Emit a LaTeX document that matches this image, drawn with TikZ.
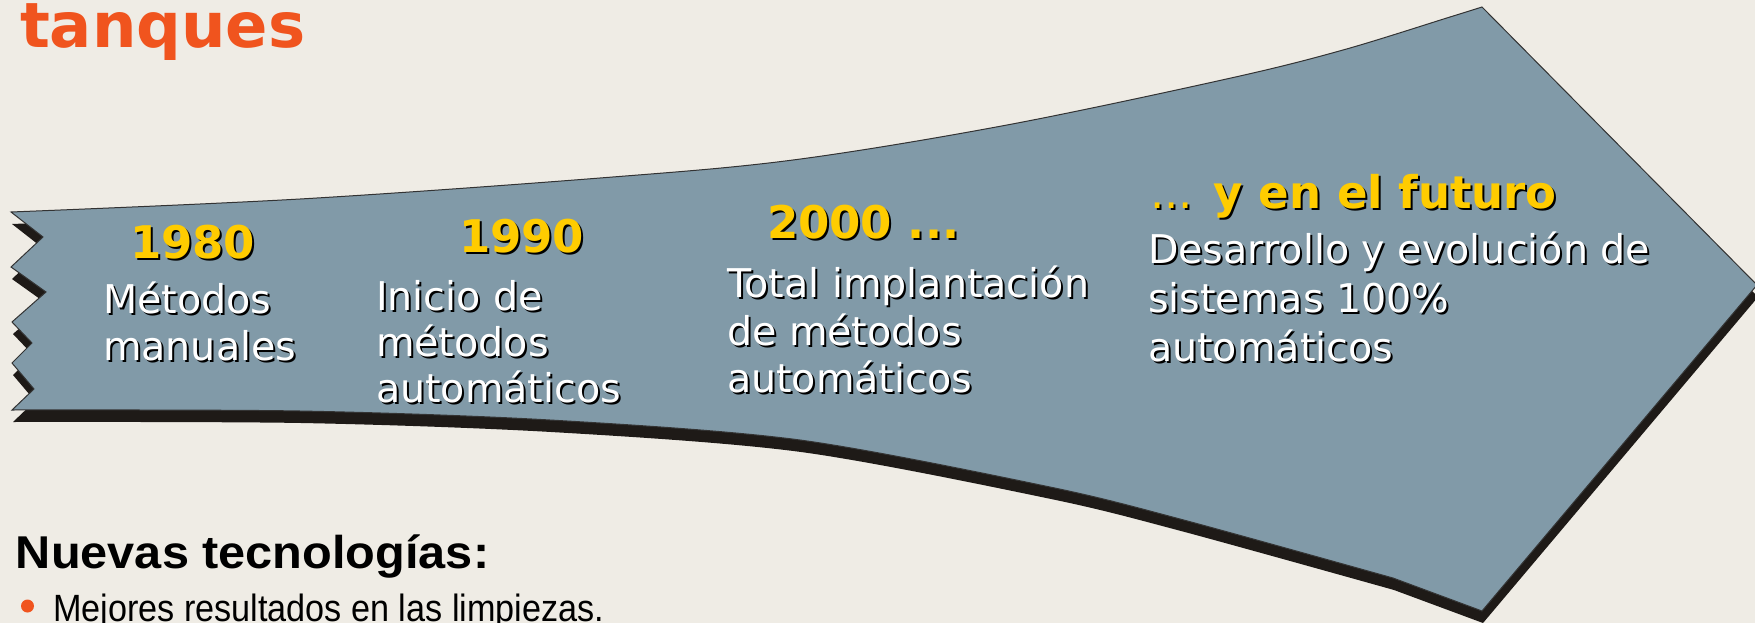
\documentclass[tikz,border=0pt]{standalone}
\usepackage{fontspec}
\usepackage{graphicx}
\setmainfont{DejaVu Sans}
\newfontfamily\lsans{Liberation Sans}
\definecolor{bgc}{RGB}{239,236,229}
\definecolor{shapec}{RGB}{129,154,168}
\definecolor{shadc}{RGB}{30,26,23}
\definecolor{yel}{RGB}{255,204,0}
\definecolor{orng}{RGB}{240,84,30}
\newcommand\flechashape{plot[smooth,tension=0.55] coordinates {(11,212) (300,199) (600,178) (793,160) (1007,125) (1231,78) (1343,50) (1450,17) (1482,7)} -- (1757,285) -- (1482,611) -- plot[smooth,tension=0.5] coordinates {(1393,578) (1180,519) (1050,487) (800,440) (550,420) (300,411) (12,410)} -- (34,389) -- (12,363) -- (32,343) -- (12,322) -- (46,292) -- (11,267) -- (43,237) -- cycle}
\newcommand\stx[4]{%
  \node[txt,#3,text=black,xshift=2pt,yshift=-2pt] at #2 {#4};
  \node[txt,#3] (#1) at #2 {#4};}
\begin{document}
\begin{tikzpicture}[x=1pt,y=-1pt,
  txt/.style={anchor=base west,inner sep=0pt,outer sep=0pt},
  yeartxt/.style={text=yel,font=\fontsize{45}{54}\selectfont\bfseries},
  bodytxt/.style={text=white,font=\fontsize{39.6}{47}\selectfont}]
\useasboundingbox (0,0) rectangle (1755,623);
\fill[bgc] (0,0) rectangle (1755,623);
% title
\node[txt,text=orng,font=\fontsize{62.5}{72}\selectfont\bfseries] (title) at (20,48) {tanques};
% shape with shadow
\begin{scope}[shift={(1,12)}]
  \fill[shadc] \flechashape;
\end{scope}
\fill[shapec,draw=black!80,line width=1pt,line join=miter] \flechashape;
% column 1
\stx{y1}{(130,258)}{yeartxt}{1980}
\stx{a1}{(103,313)}{bodytxt}{Métodos}
\stx{a2}{(103,360)}{bodytxt}{manuales}
% column 2
\stx{y2}{(459,252)}{yeartxt}{1990}
\stx{b1}{(376,310)}{bodytxt}{Inicio de}
\stx{b2}{(376,356)}{bodytxt}{métodos}
\stx{b3}{(376,402)}{bodytxt}{automáticos}
% column 3
\stx{y3}{(767,238)}{yeartxt}{2000 ...}
\stx{c1}{(727,297)}{bodytxt}{Total implantación}
\stx{c2}{(727,345)}{bodytxt}{de métodos}
\stx{c3}{(727,392)}{bodytxt}{automáticos}
% column 4
\stx{y4}{(1150,208)}{yeartxt}{{\mdseries ...} y en el futuro}
\stx{d1}{(1148,263)}{bodytxt}{Desarrollo y evolución de}
\stx{d2}{(1148,312)}{bodytxt}{sistemas 100\%}
\stx{d3}{(1148,361)}{bodytxt}{automáticos}
% bottom text
\node[txt,text=black,font=\lsans\fontsize{46}{54}\selectfont\bfseries] (nt) at (16,568) {\scalebox{1.058}[1]{Nuevas tecnologías:}};
\fill[orng] (27.5,606) circle (6.5);
\node[txt,text=black,font=\lsans\fontsize{38}{46}\selectfont] (mr) at (53,621) {\scalebox{0.9}[1]{Mejores resultados en las limpiezas.}};
\end{tikzpicture}
\end{document}
